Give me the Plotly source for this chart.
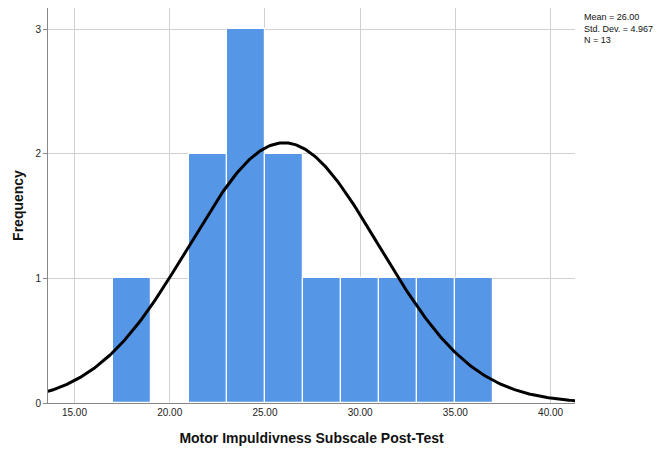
import numpy as np
import plotly.graph_objects as go

# Histogram bins (left edge, width 2) and counts
bin_left = [17, 19, 21, 23, 25, 27, 29, 31, 33, 35]
counts = [1, 0, 2, 3, 2, 1, 1, 1, 1, 1]
bin_width = 2

# Summary statistics for the fitted normal curve
mean = 26.00
std_dev = 4.967
n_obs = 13

x_ticks = [15, 20, 25, 30, 35, 40]
y_ticks = [0, 1, 2, 3]

centers = [b + bin_width / 2 for b in bin_left]

xs = np.linspace(13.0, 42.0, 400)
ys = n_obs * bin_width / (std_dev * np.sqrt(2 * np.pi)) * np.exp(-0.5 * ((xs - mean) / std_dev) ** 2)

fig = go.Figure()
fig.add_trace(go.Bar(
    x=centers, y=counts, width=bin_width,
    marker=dict(color="#5596E6", line=dict(color="white", width=1.2)),
    hoverinfo="skip",
))
fig.add_trace(go.Scatter(
    x=xs, y=ys, mode="lines",
    line=dict(color="black", width=3),
    hoverinfo="skip",
))

fig.update_layout(
    width=659, height=452,
    margin=dict(l=48, r=84, t=8, b=47),
    plot_bgcolor="white", paper_bgcolor="white",
    showlegend=False,
    font=dict(family="Liberation Sans, Arial, sans-serif", color="#222222"),
    bargap=0,
)
fig.update_xaxes(
    range=[13.61, 41.28],
    tickvals=x_ticks,
    ticktext=[f"{v:.2f}" for v in x_ticks],
    tickfont=dict(size=10, color="#222222"),
    showgrid=True, gridcolor="#d0d0d0", gridwidth=1,
    showline=True, linecolor="#888888", linewidth=1,
    zeroline=False, ticks="", ticklen=0,
    title=dict(text="<b>Motor Impuldivness Subscale Post-Test</b>",
               font=dict(size=14, color="#111111"), standoff=16),
)
fig.update_yaxes(
    range=[0, 3.17],
    tickvals=y_ticks,
    tickfont=dict(size=10, color="#222222"),
    showgrid=True, gridcolor="#d0d0d0", gridwidth=1,
    showline=True, linecolor="#888888", linewidth=1,
    zeroline=False, ticks="outside", ticklen=4, tickcolor="#888888",
    title=dict(text="<b>Frequency</b>", font=dict(size=14, color="#111111"), standoff=8),
)

fig.add_annotation(
    xref="paper", yref="paper", x=1.0, y=0.995,
    xshift=7, xanchor="left", yanchor="top", align="left", showarrow=False,
    text=f"Mean = {mean:.2f}<br>Std. Dev. = {std_dev:.3f}<br>N = {n_obs}",
    font=dict(size=9, color="#111111"),
)

fig.write_html("out.html")
